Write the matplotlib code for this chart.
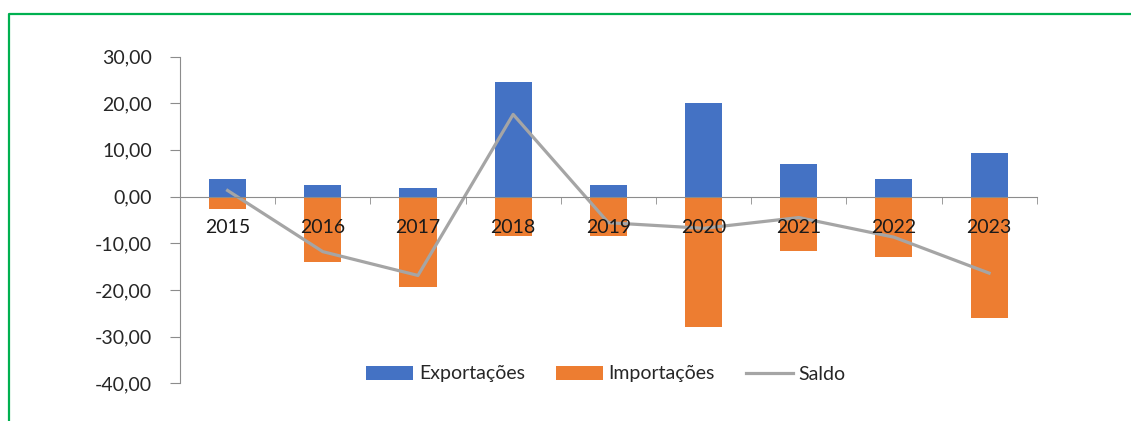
import numpy as np
import matplotlib.pyplot as plt
from matplotlib.lines import Line2D

# Dados anuais (variação, %)
anos = ['2015', '2016', '2017', '2018', '2019', '2020', '2021', '2022', '2023']
exportacoes = [3.8, 2.5, 1.8, 24.6, 2.4, 20.0, 6.9, 3.8, 9.4]
importacoes = [-2.6, -14.0, -19.3, -8.5, -8.5, -27.9, -11.6, -13.0, -26.1]
saldo = [1.3, -11.8, -16.9, 17.6, -5.6, -6.8, -4.5, -8.7, -16.4]
yticks = [30, 20, 10, 0, -10, -20, -30, -40]

plt.rcParams['font.family'] = ['Lato', 'DejaVu Sans']

fig = plt.figure(figsize=(11.31, 4.21), dpi=100)
ax = fig.add_axes([180 / 1131, 1 - 383.3 / 421, 856.7 / 1131, 326.8 / 421])

x = np.arange(len(anos))
largura = 0.39
b1 = ax.bar(x, exportacoes, largura, color='#4472C4', label='Exportações', zorder=2)
b2 = ax.bar(x, importacoes, largura, color='#ED7D31', label='Importações', zorder=2)
l1, = ax.plot(x, saldo, color='#A5A5A5', lw=2.3, label='Saldo', zorder=2.2)

ax.set_xlim(-0.5, len(anos) - 0.5)
ax.set_ylim(-40, 30)
ax.set_yticks(yticks)
ax.set_yticklabels([f'{v:.2f}'.replace('.', ',') for v in yticks])

# eixo das categorias passando pelo zero, por cima das barras
ax.set_axisbelow(False)
for s in ['top', 'right']:
    ax.spines[s].set_visible(False)
ax.spines['bottom'].set_position(('data', 0))
ax.spines['bottom'].set_color('#8C8C8C')
ax.spines['left'].set_color('#8C8C8C')
ax.spines['bottom'].set_zorder(3)

ax.set_xticks(x)
ax.set_xticklabels(anos)
ax.set_xticks(np.arange(-0.5, len(anos)), minor=True)
ax.tick_params(axis='x', which='major', length=0, pad=16, labelsize=14, labelcolor='#1a1a1a')
ax.tick_params(axis='x', which='minor', length=5, direction='out', color='#8C8C8C')
ax.tick_params(axis='y', length=7, color='#8C8C8C', pad=13, labelsize=14, labelcolor='#262626')

fig.legend([b1, b2, l1], ['Exportações', 'Importações', 'Saldo'],
           loc='center', bbox_to_anchor=(606 / 1131, 1 - 374 / 421), ncol=3,
           frameon=False, fontsize=14, handlelength=2.4, handleheight=0.75,
           handletextpad=0.3, columnspacing=1.6, labelcolor='#262626')

# moldura verde
fig.add_artist(Line2D([8.5 / 1131, 8.5 / 1131, 1], [0, 1 - 14 / 421, 1 - 14 / 421],
                      color='#00B050', lw=1.6, transform=fig.transFigure))

fig.savefig('out.png', dpi=100)
